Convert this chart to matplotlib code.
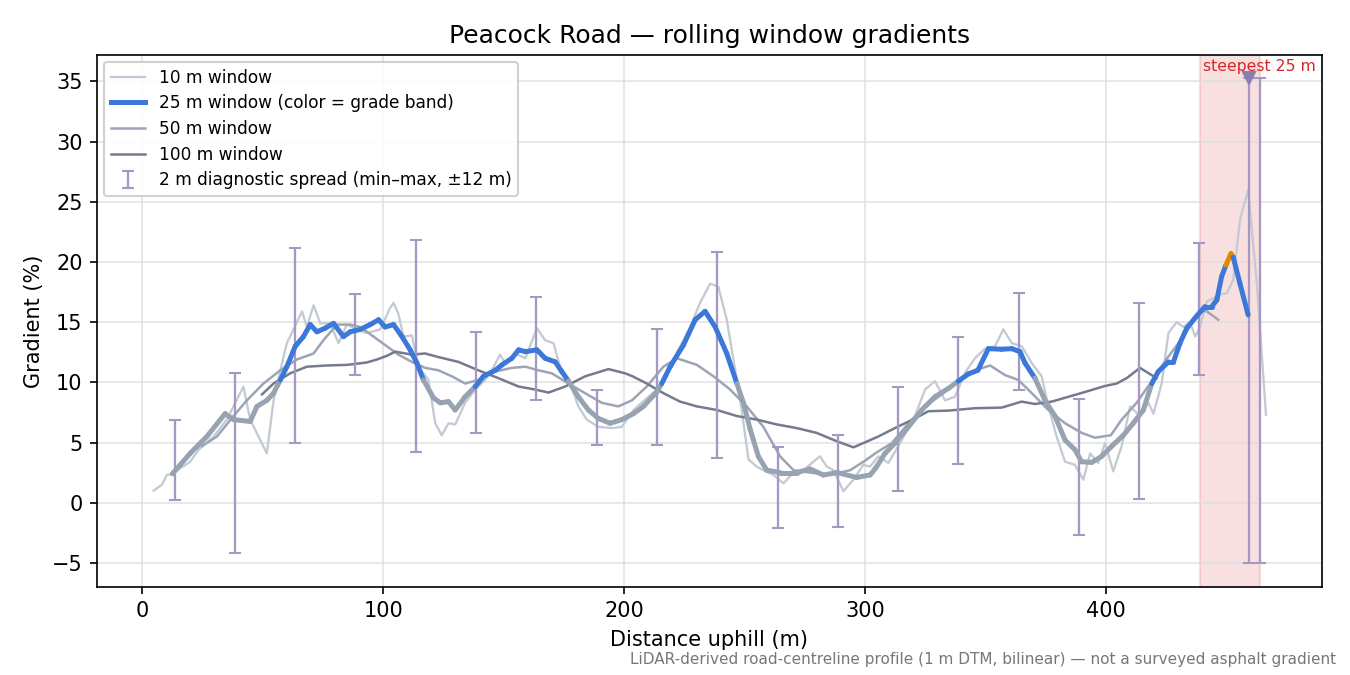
import numpy as np
import matplotlib
matplotlib.use('Agg')
import matplotlib.pyplot as plt
from matplotlib.collections import LineCollection
from matplotlib.lines import Line2D

# 10 m window
x10 = [4.7, 8.2, 10.2, 12.3, 19.9, 23.4, 29.6, 35.1, 38.6, 42.0, 44.8, 49.0, 51.7, 54.5, 57.3, 60.0,
       62.8, 66.3, 68.3, 71.1, 73.9, 78.0, 81.5, 84.9, 89.1, 93.2, 98.8, 102.9, 104.3, 106.3, 108.4,
       111.9, 114.6, 118.8, 121.6, 124.3, 127.1, 129.9, 134.0, 138.2, 142.3, 145.1, 148.5, 150.6,
       154.8, 159.0, 163.8, 167.2, 170.7, 173.4, 177.6, 181.0, 184.5, 189.3, 194.9, 199.0, 203.9,
       209.0, 214.9, 220.5, 227.4, 231.5, 235.7, 239.1, 242.6, 246.1, 248.8, 251.6, 255.0, 257.8,
       262.0, 266.1, 270.3, 274.4, 277.9, 281.3, 284.1, 286.9, 291.0, 295.1, 299.3, 302.1, 305.5,
       309.7, 315.2, 320.7, 324.9, 329.0, 333.2, 337.3, 341.5, 345.6, 349.8, 353.9, 357.4, 360.9,
       365.0, 369.2, 373.3, 376.1, 379.5, 383.0, 387.1, 390.6, 393.4, 396.8, 399.6, 403.0, 406.5,
       410.0, 414.1, 417.6, 419.7, 423.1, 425.9, 429.3, 432.1, 434.9, 437.0, 439.0, 441.8, 444.5,
       447.3, 450.1, 452.8, 455.6, 459.0, 462.6, 466.4]
y10 = [1.0, 1.5, 2.3, 2.4, 3.4, 4.4, 5.5, 6.9, 8.3, 9.65, 6.9, 5.2, 4.1, 8.5, 11.0, 13.25,
       14.4, 15.9, 14.6, 16.4, 14.9, 14.9, 13.25, 14.8, 14.4, 14.1, 14.4, 16.2, 16.6, 15.7, 13.8,
       13.9, 11.3, 10.2, 6.6, 5.6, 6.6, 6.5, 8.3, 9.4, 10.2, 11.0, 12.3, 11.6,
       12.4, 12.0, 14.5, 13.5, 13.25, 11.3, 9.9, 8.0, 6.9, 6.3, 6.2, 6.3, 7.7,
       8.6, 9.65, 11.9, 14.6, 16.6, 18.2, 17.95, 15.2, 11.0, 7.7, 3.6, 3.0, 2.7,
       2.3, 1.6, 2.5, 2.7, 3.3, 3.85, 3.0, 2.7, 0.95, 1.9, 3.15, 3.0, 3.85,
       3.3, 5.2, 7.2, 9.4, 10.1, 8.5, 8.8, 10.8, 12.0, 12.8, 13.0, 14.4, 13.25,
       13.0, 11.6, 10.5, 8.0, 5.5, 3.4, 3.15, 1.9, 4.1, 3.3, 4.95, 2.6, 4.7,
       8.0, 7.2, 8.3, 7.4, 9.9, 14.1, 15.0, 14.6, 15.0, 13.8, 14.6, 16.7, 17.0,
       17.3, 17.4, 18.5, 23.5, 26.0, 18.2, 7.3]

# 25 m window
x25 = [12.5, 19.9, 26.8, 34.4, 37.9, 44.8, 47.6, 51.7, 54.5, 57.3, 60.0, 63.5, 66.9, 69.7, 72.5,
       75.9, 79.4, 83.5, 86.3, 90.5, 94.6, 98.1, 100.8, 104.3, 107.8, 111.2, 114.0, 116.7, 120.9,
       123.7, 127.1, 129.9, 134.0, 138.2, 141.6, 146.5, 149.3, 153.4, 156.2, 159.0, 163.8, 167.2,
       171.4, 174.1, 176.9, 181.0, 185.2, 189.3, 194.2, 199.0, 203.9, 208.0, 213.6, 215.6, 219.1,
       224.6, 229.5, 233.6, 237.8, 242.6, 246.8, 249.5, 252.3, 255.7, 259.2, 264.7, 271.6, 277.2,
       282.7, 288.3, 296.5, 302.1, 304.5, 308.3, 312.4, 318.0, 323.5, 329.0, 334.6, 338.7, 342.9,
       346.8, 351.2, 356.7, 360.9, 364.3, 366.4, 370.5, 374.7, 378.8, 383.0, 387.1, 389.9, 394.1,
       398.2, 402.4, 407.2, 411.3, 415.5, 419.0, 421.7, 425.9, 428.0, 430.7, 433.5, 437.6, 441.1,
       443.9, 446.0, 448.0, 449.8, 451.9, 452.8, 455.6, 459.0]
y25 = [2.4, 4.1, 5.5, 7.4, 6.9, 6.75, 8.0, 8.5, 9.1, 10.2, 11.3, 13.0, 13.8, 14.8, 14.2,
       14.5, 14.9, 13.8, 14.2, 14.4, 14.8, 15.2, 14.6, 14.8, 13.8, 12.7, 11.6, 10.2, 8.7,
       8.3, 8.4, 7.7, 8.8, 9.65, 10.5, 11.0, 11.45, 12.0, 12.7, 12.55, 12.7, 12.0,
       11.7, 10.9, 10.1, 8.8, 7.7, 7.0, 6.6, 6.9, 7.4, 8.0, 9.2, 9.9, 11.3,
       13.1, 15.2, 15.9, 14.6, 12.4, 9.9, 8.3, 6.1, 3.85, 2.7, 2.5, 2.5, 2.8,
       2.3, 2.5, 2.1, 2.3, 2.9, 4.1, 4.95, 6.3, 7.7, 8.8, 9.5, 10.1, 10.7,
       11.0, 12.8, 12.75, 12.8, 12.55, 11.6, 10.35, 8.5, 7.2, 5.2, 4.4, 3.4, 3.35,
       3.85, 4.7, 5.6, 6.6, 7.7, 9.9, 10.9, 11.7, 11.7, 13.25, 14.5, 15.5, 16.3,
       16.3, 16.85, 18.8, 19.75, 20.7, 20.4, 18.2, 15.6]

# 50 m window
x50 = [24.8, 31.0, 37.9, 43.4, 50.3, 57.3, 64.2, 71.1, 75.2, 80.8, 86.3, 90.5, 96.0, 101.5,
       106.3, 111.9, 117.4, 122.9, 128.5, 134.0, 139.5, 146.5, 153.4, 159.0, 164.4, 170.0, 176.9,
       183.8, 190.7, 197.6, 203.2, 209.4, 216.3, 221.9, 230.2, 237.1, 244.0, 250.9, 257.8, 264.7,
       270.3, 277.2, 285.5, 293.8, 299.3, 305.0, 311.1, 318.0, 324.9, 331.8, 338.7, 345.6, 351.9,
       358.1, 363.6, 369.2, 376.1, 383.0, 389.9, 395.4, 402.0, 406.5, 412.7, 418.3, 425.0, 432.1,
       439.0, 441.8, 446.6]
y50 = [4.7, 5.5, 7.2, 8.5, 9.9, 11.0, 11.9, 12.4, 13.5, 14.8, 14.8, 14.6, 13.8, 13.0,
       12.3, 11.7, 11.2, 11.0, 10.5, 9.9, 10.2, 10.9, 11.2, 11.3, 11.0, 10.75, 9.9,
       9.1, 8.3, 8.0, 8.5, 9.65, 11.3, 12.0, 11.45, 10.5, 9.4, 8.0, 6.3, 3.85,
       2.7, 2.5, 2.3, 2.7, 3.4, 4.2, 4.95, 6.6, 8.0, 9.0, 10.2, 11.0, 11.4,
       10.6, 10.2, 9.1, 7.7, 6.6, 5.8, 5.4, 5.6, 6.9, 8.3, 9.9, 11.9, 13.8,
       16.0, 15.9, 15.2]

# 100 m window
x100 = [49.7, 54.5, 61.4, 68.3, 76.6, 84.9, 93.2, 97.4, 101.5, 105.0, 111.9, 117.4, 122.9,
        131.2, 139.5, 147.8, 156.2, 163.1, 168.6, 175.5, 183.8, 193.5, 200.4, 203.5, 209.4,
        216.3, 223.2, 230.2, 238.5, 246.8, 255.1, 263.4, 271.6, 279.9, 288.3, 295.2, 302.1,
        305.5, 312.4, 320.7, 326.3, 334.6, 345.6, 356.7, 365.0, 370.5, 377.5, 384.4, 391.3,
        399.6, 404.4, 408.6, 414.1, 421.0]
y100 = [9.0, 9.9, 10.75, 11.3, 11.4, 11.45, 11.65, 11.9, 12.2, 12.55, 12.3, 12.4, 12.1,
        11.7, 11.0, 10.35, 9.65, 9.4, 9.15, 9.65, 10.5, 11.1, 10.75, 10.5, 9.9,
        9.1, 8.4, 8.0, 7.7, 7.2, 6.9, 6.5, 6.2, 5.8, 5.1, 4.6, 5.2,
        5.5, 6.2, 7.0, 7.6, 7.65, 7.85, 7.9, 8.4, 8.2, 8.4, 8.8, 9.2,
        9.7, 9.9, 10.35, 11.2, 10.35]

# 2 m diagnostic spread (min-max over +-12 m)
spread_x = [13.6, 38.6, 63.5, 88.5, 113.6, 138.6, 163.5, 188.6, 213.6, 238.6, 263.7, 288.7,
            313.7, 338.6, 363.7, 388.7, 413.7, 438.7, 459.2, 463.8]
spread_lo = [0.25, -4.2, 5.0, 10.6, 4.2, 5.8, 8.5, 4.8, 4.8, 3.7, -2.1, -2.0,
             1.0, 3.2, 9.4, -2.7, 0.3, 10.6, -5.0, -5.0]
spread_hi = [6.9, 10.8, 21.2, 17.3, 21.8, 14.2, 17.1, 9.4, 14.4, 20.8, 4.6, 5.6,
             9.6, 13.8, 17.4, 8.6, 16.6, 21.6, 35.3, 35.3]

steep_start, steep_end = 439.0, 464.0
steep_x, steep_y = 459.2, 35.3

C10 = '#c4cad4'
C50 = '#9ca5b6'
C100 = '#747b8c'
C_LOW = '#97a3b0'
C_MID = '#3b78d9'
C_HIGH = '#e08a00'
C_ERR = '#a598c2'


def band_color(v):
    if v >= 20:
        return C_HIGH
    if v >= 10:
        return C_MID
    return C_LOW


fig = plt.figure(figsize=(9, 4.5), dpi=150)
ax = fig.add_axes([0.072, 0.1305, 0.907, 0.788])

ax.axvspan(steep_start, steep_end, color='#d62728', alpha=0.14, lw=1, zorder=0)

ax.plot(x10, y10, color=C10, lw=1.1, zorder=2, label='10 m window')
ax.plot(x50, y50, color=C50, lw=1.2, zorder=2, label='50 m window')
ax.plot(x100, y100, color=C100, lw=1.2, zorder=2, label='100 m window')

pts = np.column_stack([x25, y25])
segs = np.stack([pts[:-1], pts[1:]], axis=1)
mids = (np.array(y25[:-1]) + np.array(y25[1:])) / 2
lc = LineCollection(segs, colors=[band_color(v) for v in mids], linewidths=2.4,
                    capstyle='round', joinstyle='round', zorder=4)
ax.add_collection(lc)

spread_mid = [(a + b) / 2 for a, b in zip(spread_lo, spread_hi)]
yerr = [[m - a for m, a in zip(spread_mid, spread_lo)],
        [b - m for m, b in zip(spread_mid, spread_hi)]]
eb = ax.errorbar(spread_x, spread_mid, yerr=yerr, fmt='none', ecolor=C_ERR, elinewidth=1.1,
                 capsize=3, capthick=1.0, zorder=3, label='2 m diagnostic spread (min–max, ±12 m)')

ax.plot([steep_x], [steep_y], marker='v', color='#8a7fb0', ms=6, zorder=5, ls='none')
ax.text((steep_start + steep_end) / 2 + 12, 35.6, 'steepest 25 m', color='#d62728',
        fontsize=7.5, ha='center', va='bottom', zorder=6)

ax.set_xlim(-18.7, 489.5)
ax.set_ylim(-7, 37.2)
ax.set_xticks([0, 100, 200, 300, 400])
ax.set_yticks(np.arange(-5, 36, 5))
ax.grid(True, color='#dddddd', lw=0.8, alpha=0.8)
ax.set_axisbelow(True)

ax.set_title('Peacock Road — rolling window gradients', fontsize=12)
ax.set_xlabel('Distance uphill (m)', fontsize=10)
ax.set_ylabel('Gradient (%)', fontsize=10)

handles = [Line2D([], [], color=C10, lw=1.1),
           Line2D([], [], color=C_MID, lw=2.4),
           Line2D([], [], color=C50, lw=1.2),
           Line2D([], [], color=C100, lw=1.2),
           eb]
labels = ['10 m window', '25 m window (color = grade band)', '50 m window', '100 m window',
          '2 m diagnostic spread (min–max, ±12 m)']
ax.legend(handles, labels, loc='upper left', fontsize=8.2, framealpha=0.9, borderaxespad=0.4,
          labelspacing=0.45)

fig.text(0.99, 0.012, 'LiDAR-derived road-centreline profile (1 m DTM, bilinear) — not a surveyed asphalt gradient',
         ha='right', va='bottom', fontsize=7.3, color='#777777')

fig.savefig('out.png', dpi=150)
